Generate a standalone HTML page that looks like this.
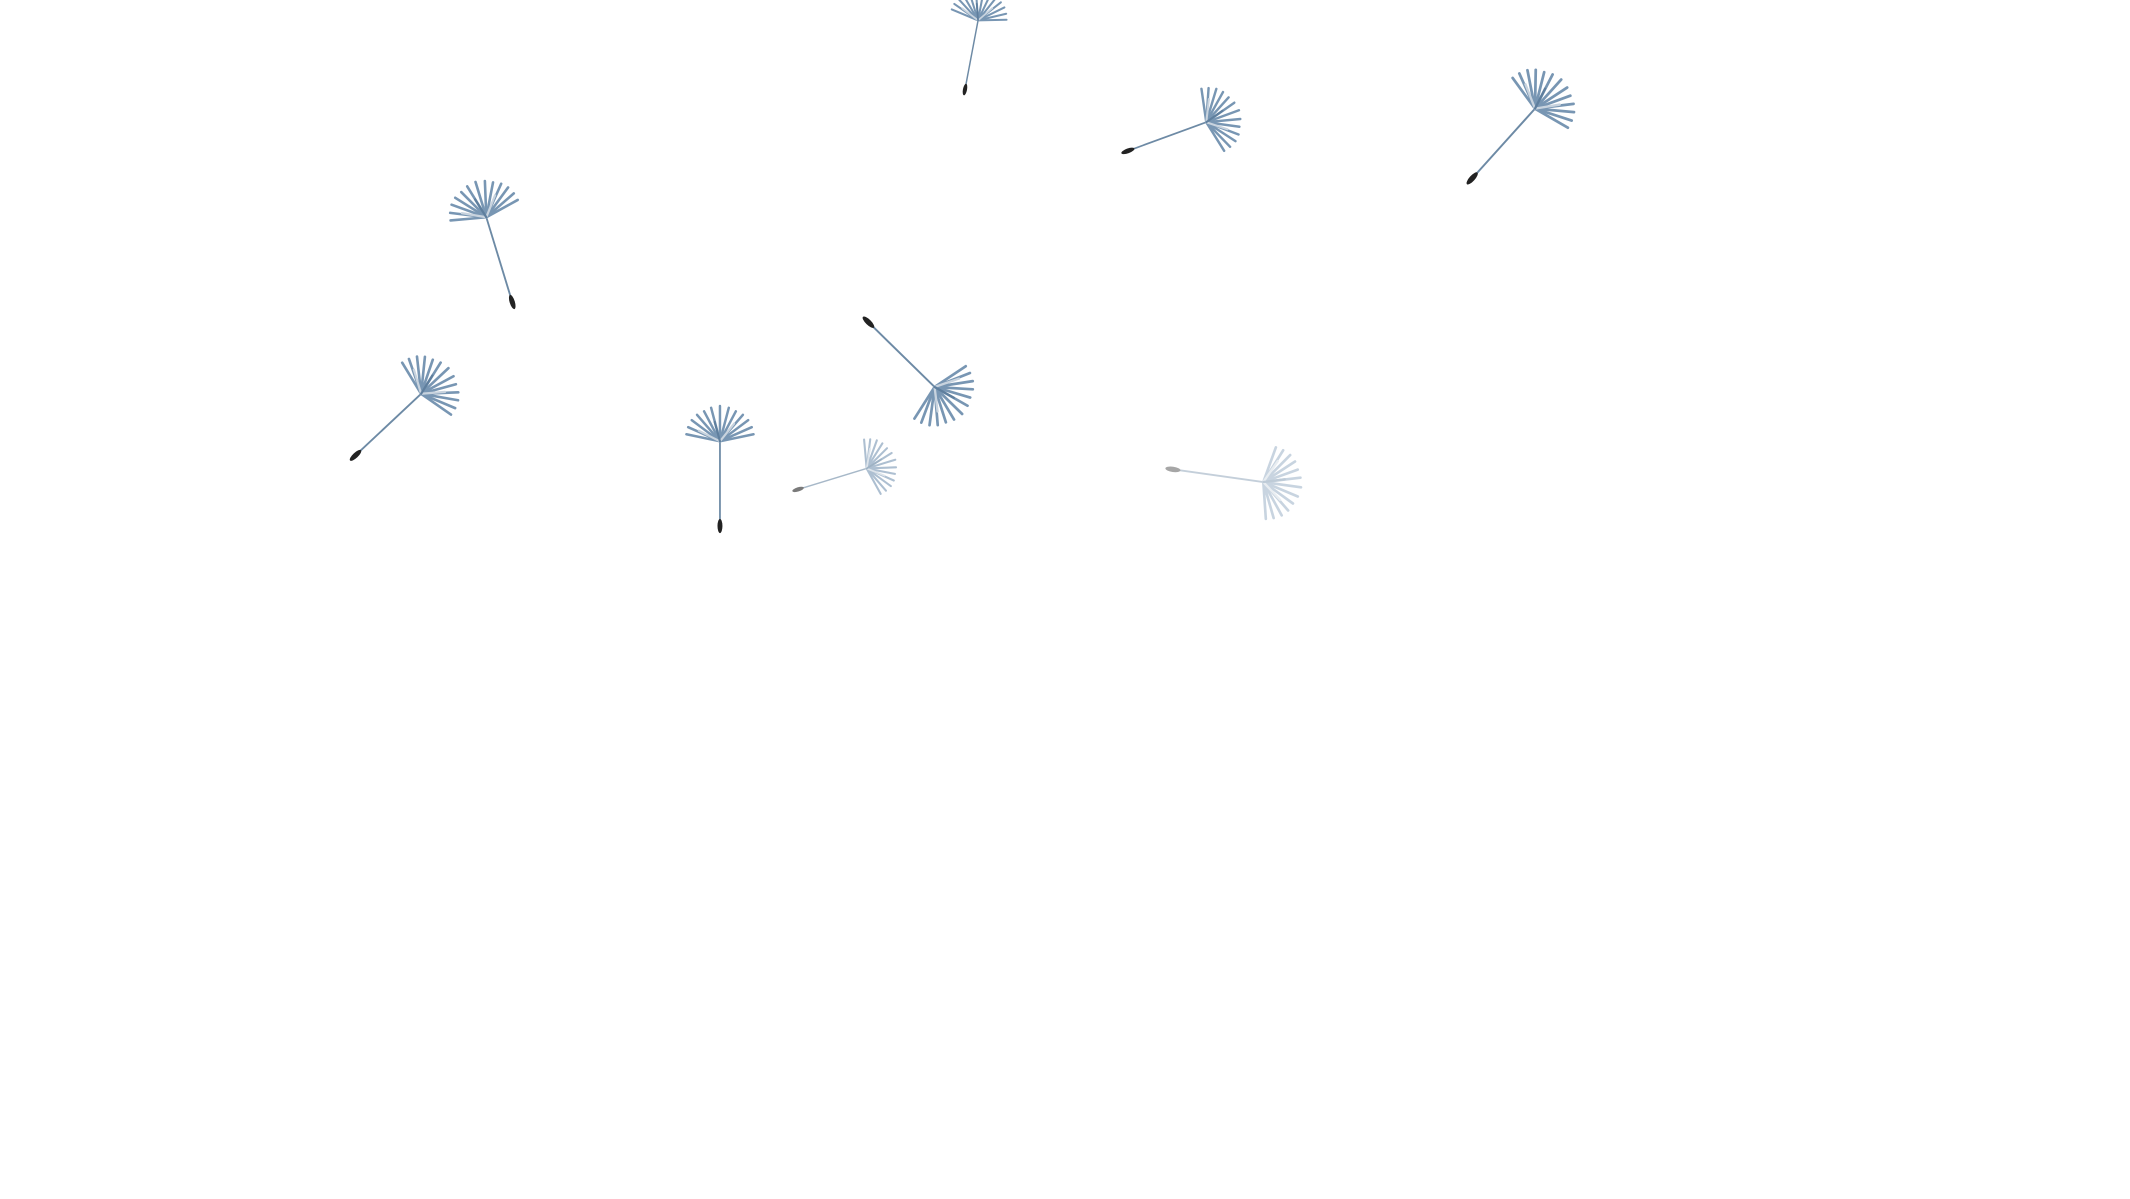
<!DOCTYPE html>
<html><head><meta charset="utf-8"><style>
html,body{margin:0;padding:0;background:#fff;width:2130px;height:1199px;overflow:hidden}
svg{display:block}
</style></head><body>
<svg width="2130" height="1199" viewBox="0 0 1568 883" preserveAspectRatio="none" xmlns="http://www.w3.org/2000/svg">
<defs>
<g id="fan" stroke="#7896b3" stroke-linecap="round">
  <line x1="0" y1="0" x2="-19" y2="-4" stroke-width="1.4"/>
  <line x1="0" y1="0" x2="-18" y2="-8" stroke-width="1.4"/>
  <line x1="0" y1="0" x2="-16" y2="-12" stroke-width="1.4"/>
  <line x1="0" y1="0" x2="-13" y2="-15" stroke-width="1.4"/>
  <line x1="0" y1="0" x2="-9" y2="-17" stroke-width="1.4"/>
  <line x1="0" y1="0" x2="-5" y2="-19" stroke-width="1.4"/>
  <line x1="0" y1="0" x2="0" y2="-20" stroke-width="1.4"/>
  <line x1="0" y1="0" x2="5" y2="-19" stroke-width="1.4"/>
  <line x1="0" y1="0" x2="9" y2="-17" stroke-width="1.4"/>
  <line x1="0" y1="0" x2="13" y2="-15" stroke-width="1.4"/>
  <line x1="0" y1="0" x2="16" y2="-12" stroke-width="1.4"/>
  <line x1="0" y1="0" x2="18" y2="-8" stroke-width="1.4"/>
  <line x1="0" y1="0" x2="19" y2="-4" stroke-width="1.4"/>
  <line x1="0" y1="0" x2="-12" y2="-6" stroke="#c8d3de" stroke-width="1.2"/>
  <line x1="0" y1="0" x2="8" y2="-10" stroke="#c8d3de" stroke-width="1.2"/>
  <line x1="0" y1="0" x2="-3" y2="-11" stroke="#5f7f9e" stroke-width="1.2"/>
</g>
<g id="seed">
  <line x1="0" y1="0" x2="0" y2="48" stroke="#6d8aa5" stroke-width="1"/>
  <ellipse cx="0" cy="48" rx="1.4" ry="4" fill="#222"/>
  <use href="#fan"/>
</g>
</defs>
<use href="#seed" transform="translate(720,15) rotate(10.7) scale(1.08)"/>
<use href="#seed" transform="translate(888,90) rotate(69.9) scale(1.28)"/>
<use href="#seed" transform="translate(1130,80) rotate(42) scale(1.44)"/>
<use href="#seed" transform="translate(358,160) rotate(-17) scale(1.36)"/>
<use href="#seed" transform="translate(310,290) rotate(46.8) scale(1.38)"/>
<use href="#seed" transform="translate(688,285) rotate(134.4) scale(1.42)"/>
<use href="#seed" transform="translate(530,325) rotate(0) scale(1.3)"/>
<use href="#seed" opacity="0.6" transform="translate(638,345) rotate(73) scale(1.1)"/>
<use href="#seed" opacity="0.4" transform="translate(930,355) rotate(98) scale(1.4)"/>
</svg>
</body></html>
